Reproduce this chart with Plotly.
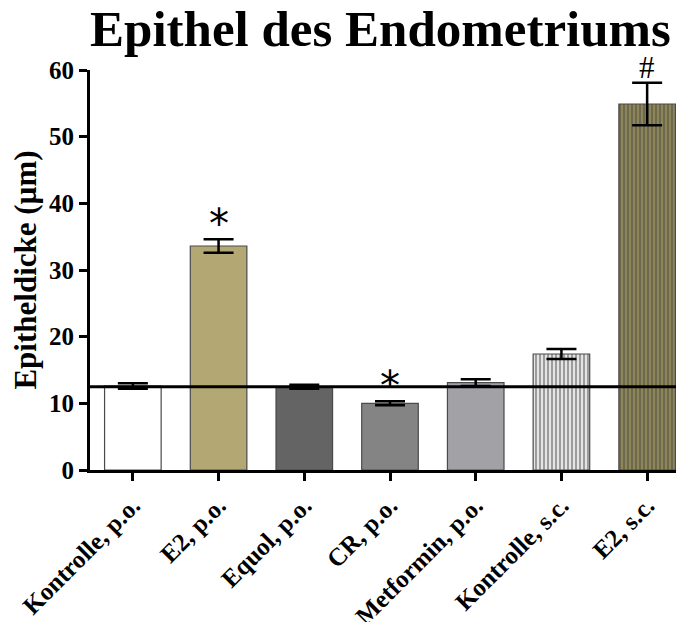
import plotly.graph_objects as go

groups = ["Kontrolle, p.o.", "E2, p.o.", "Equol, p.o.", "CR, p.o.",
          "Metformin, p.o.", "Kontrolle, s.c.", "E2, s.c."]
means = [12.6, 33.6, 12.5, 10.0, 13.1, 17.4, 54.9]
errors = [0.4, 1.0, 0.3, 0.3, 0.5, 0.75, 3.2]
marks = ["", "*", "", "*", "", "", "#"]
reference_level = 12.5

fill_colors = ["#ffffff", "#b3a874", "#646464", "#848484", "#a2a1a6", "#e4e4e4", "#8e8658"]
pattern_shapes = ["", "", "", "", "", "|", "|"]
pattern_fg = ["#000", "#000", "#000", "#000", "#000", "#a8a8a8", "#5e5933"]

FONT = "Liberation Serif"

fig = go.Figure()
fig.add_bar(
    x=groups, y=means,
    width=0.66,
    marker=dict(
        color=fill_colors,
        line=dict(color="#4a4a4a", width=1.2),
        pattern=dict(shape=pattern_shapes, fgcolor=pattern_fg, size=4, solidity=0.45),
    ),
    error_y=dict(type="data", array=errors, color="black", thickness=2.5, width=15),
)

fig.add_hline(y=reference_level, line=dict(color="black", width=3), x0=0, x1=0.99)

for g, m, e, s in zip(groups, means, errors, marks):
    if not s:
        continue
    star = s == "*"
    fig.add_annotation(
        x=g, y=m + e, text=s, showarrow=False, yanchor="bottom",
        yshift=-10 if star else -4,
        font=dict(family="DejaVu Sans" if star else FONT, size=40 if star else 31,
                  color="black"),
    )

# the page body adds an 8px margin, so the figure is sized to fit the window
fig.update_layout(
    width=676, height=614,
    margin=dict(l=82, r=0, t=62, b=152),
    plot_bgcolor="white", paper_bgcolor="white",
    showlegend=False,
    title=dict(text="<b>Epithel des Endometriums</b>", x=0.551, xanchor="center",
               y=0.967, yanchor="middle",
               font=dict(family=FONT, size=51, color="black")),
    font=dict(family=FONT, color="black"),
)
fig.update_xaxes(
    range=[-0.50, 6.43], automargin=False,
    showline=True, linecolor="black", linewidth=3,
    ticks="outside", ticklen=8, tickwidth=3, tickcolor="black",
    tickangle=-45, tickfont=dict(family=FONT, size=25, color="black"),
    tickprefix="<b>", ticksuffix="</b>",
    showgrid=False, zeroline=False,
)
fig.update_yaxes(
    range=[0, 60], dtick=10, automargin=False,
    showline=True, linecolor="black", linewidth=3,
    ticks="outside", ticklen=8, tickwidth=3, tickcolor="black",
    tickfont=dict(family=FONT, size=25, color="black"),
    tickprefix="<b>", ticksuffix="</b>",
    title=dict(text="<b>Epitheldicke (µm)</b>", font=dict(family=FONT, size=31, color="black"),
               standoff=6),
    showgrid=False, zeroline=False,
)

fig.write_html("out.html")
